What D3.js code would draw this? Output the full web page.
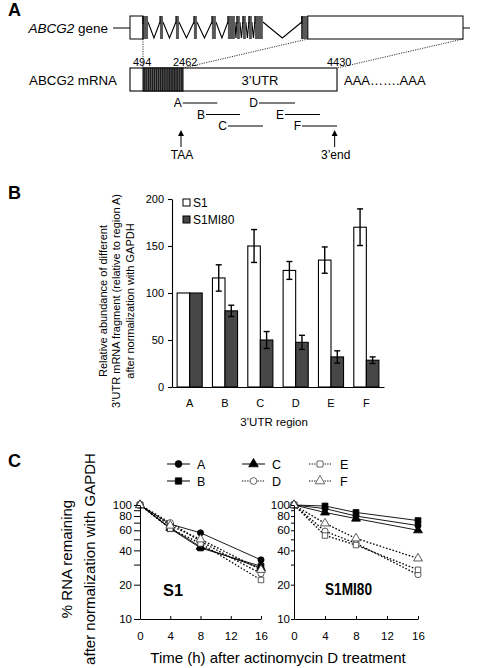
<!DOCTYPE html>
<html><head><meta charset="utf-8">
<script src="https://cdn.jsdelivr.net/npm/d3@7"></script>
<style>
body{margin:0;background:#fff}
svg{display:block;font-family:"Liberation Sans",Arial,Helvetica,sans-serif}
</style>
</head><body>
<svg id="c" width="482" height="668"></svg>
<script>
// ================= DATA =================
// Panel A: gene schematic (relative gene units 0..1000)
const geneUtr5 = [0, 39];
const geneExons = [[39,54],[90,99],[138,147],[192,201],[246,258],[294,315],[321,330],[339,348],[357,366],[375,399],[516,534]];
const geneUtr3 = [534, 1000];
// mRNA landmarks (nt)
const mrnaMarks = [494, 2462, 4430];
const mrnaJunctions = [560,650,760,860,960,1060,1160,1260,1360,1450,1540,1630,1720,1800,1880,1960,2040,2120,2200,2300,2400];
const fragNames = ["A","B","C","D","E","F"];
const fragStart = [2450, 2756, 3037, 3433, 3765, 3983];
const fragEnd   = [2900, 3190, 3485, 3893, 4212, 4430];
const fragRow   = [0, 1, 2, 0, 1, 2];
const arrowNt = [2462, 4400];
const arrowLabels = ["TAA", "3\u2019end"];

// Panel B
const regions = ["A","B","C","D","E","F"];
const s1Abund = [100,116,150,124,135,170];
const s1AbundErr = [0,14,17.5,9.5,14,19.5];
const mi80Abund = [100,81,50,47.5,32,28.5];
const mi80AbundErr = [0,6,9,7.5,6.5,3.5];
const abundTicks = [0,50,100,150,200];

// Panel C
const timePoints = [0,4,8,16];
const timeTicks = [0,4,8,12,16];
const pctTicks = [10,20,30,40,50,60,70,80,90,100];
const pctLabels = [10,20,40,60,80,100];
const seriesNames = ["A","B","C","D","E","F"];
const s1Decay = [
  [100,68,57,33],   // A
  [100,62,42,29],   // B
  [100,63,43,28],   // C
  [100,70,48,25],   // D
  [100,62,46,22],   // E
  [100,66,50,27]    // F
];
const mi80Decay = [
  [100,93,80,66],   // A
  [100,98,86,73],   // B
  [100,86,76,60],   // C
  [100,59,46,24.5], // D
  [100,54,44.5,27], // E
  [100,69,51,34]    // F
];

// ================= DRAW =================
const svg = d3.select("#c");
const K = "#000";

function panelLetter(t, x, y){
  svg.append("text").attr("x",x).attr("y",y).attr("font-size",18).attr("font-weight","bold").text(t);
}

// ---------- Panel A ----------
panelLetter("A", 8, 16);
const gx = d3.scaleLinear().domain([0,1000]).range([130,463]);
const gTop = 16, gBot = 39, gMid = 28;
const gA = svg.append("g");
gA.append("line").attr("x1",113).attr("x2",470).attr("y1",gMid).attr("y2",gMid).attr("stroke",K).attr("stroke-width",1.2);
for(let i=0;i<geneExons.length-1;i++){
  const a = gx(geneExons[i][1]), b = gx(geneExons[i+1][0]);
  const m = (a+b)/2;
  gA.append("rect").attr("x",a).attr("y",gTop).attr("width",b-a).attr("height",gBot-gTop).attr("fill","#fff");
  gA.append("path").attr("d",`M${a},${gTop+6}L${m},${gBot-1}L${b},${gTop+6}`).attr("fill","none").attr("stroke",K).attr("stroke-width",1.1);
}
gA.append("rect").attr("x",gx(geneUtr5[0])).attr("y",gTop).attr("width",gx(geneUtr5[1])-gx(geneUtr5[0])).attr("height",gBot-gTop).attr("fill","#fff").attr("stroke",K);
geneExons.forEach(e=>{
  gA.append("rect").attr("x",gx(e[0])).attr("y",gTop).attr("width",Math.max(1,gx(e[1])-gx(e[0]))).attr("height",gBot-gTop).attr("fill","#595959");
  gA.append("line").attr("x1",gx(e[0])).attr("x2",gx(e[0])).attr("y1",gTop).attr("y2",gTop+8).attr("stroke",K).attr("stroke-width",1.1);
});
gA.append("rect").attr("x",gx(geneUtr3[0])).attr("y",gTop).attr("width",gx(geneUtr3[1])-gx(geneUtr3[0])).attr("height",gBot-gTop).attr("fill","#fff").attr("stroke",K);
gA.append("line").attr("x1",gx(geneUtr5[1])).attr("x2",gx(geneUtr5[1])).attr("y1",gTop).attr("y2",gBot).attr("stroke",K);
gA.append("line").attr("x1",gx(geneExons[geneExons.length-1][0])).attr("x2",gx(geneExons[geneExons.length-1][0])).attr("y1",gTop).attr("y2",gBot).attr("stroke",K);

const geneLbl = svg.append("text").attr("x",108).attr("y",33).attr("text-anchor","end").attr("font-size",13.5);
geneLbl.append("tspan").attr("font-style","italic").text("ABCG2");
geneLbl.append("tspan").text(" gene");

// mRNA
const mx = d3.scaleLinear().domain([0,494,2462,4430]).range([130,143,183,337]);
const mTop = 68, mBot = 91;
[[gx(geneUtr5[1]), mx(494)],[gx(geneUtr3[0]), mx(2462)],[gx(geneUtr3[1]), mx(4430)]].forEach(p=>{
  svg.append("line").attr("x1",p[0]).attr("y1",gBot).attr("x2",p[1]).attr("y2",mTop)
    .attr("stroke",K).attr("stroke-width",0.8).attr("stroke-dasharray","1.2,1.2");
});
svg.append("rect").attr("x",mx(0)).attr("y",mTop).attr("width",mx(4430)-mx(0)).attr("height",mBot-mTop).attr("fill","#fff").attr("stroke",K).attr("stroke-width",1.1);
svg.append("rect").attr("x",mx(494)).attr("y",mTop).attr("width",mx(2462)-mx(494)).attr("height",mBot-mTop).attr("fill","#5a5a5a").attr("stroke",K).attr("stroke-width",1);
mrnaJunctions.forEach(j=>{
  svg.append("line").attr("x1",mx(j)).attr("x2",mx(j)).attr("y1",mTop).attr("y2",mBot).attr("stroke","#111").attr("stroke-width",0.9);
});
svg.append("text").attr("x",(mx(2462)+mx(4430))/2).attr("y",85).attr("text-anchor","middle").attr("font-size",13).text("3\u2019UTR");
svg.append("text").attr("x",117).attr("y",85).attr("text-anchor","end").attr("font-size",13.3).text("ABCG2 mRNA");
svg.append("text").attr("x",344).attr("y",85).attr("font-size",13).text("AAA\u2026\u2026.AAA");
mrnaMarks.forEach(m=>{
  svg.append("text").attr("x",mx(m)-10).attr("y",66).attr("font-size",11).text(m);
});
const rowY = [103, 114.5, 126];
fragNames.forEach((f,i)=>{
  const y = rowY[fragRow[i]];
  svg.append("line").attr("x1",mx(fragStart[i])).attr("x2",mx(fragEnd[i])).attr("y1",y).attr("y2",y).attr("stroke",K).attr("stroke-width",1.1);
  svg.append("text").attr("x",mx(fragStart[i])-1).attr("y",y+4.3).attr("text-anchor","end").attr("font-size",12).text(f);
});
arrowNt.forEach((a,i)=>{
  const x = mx(a) - (i===0?2:0);
  svg.append("line").attr("x1",x).attr("x2",x).attr("y1",147).attr("y2",134).attr("stroke",K).attr("stroke-width",1);
  svg.append("path").attr("d",`M${x},130L${x-3},136L${x+3},136Z`).attr("fill",K);
  svg.append("text").attr("x",x+1).attr("y",159).attr("text-anchor","middle").attr("font-size",12).text(arrowLabels[i]);
});

// ---------- Panel B ----------
panelLetter("B", 8, 199);
const bx = d3.scaleBand().domain(regions).range([172,384]).paddingInner(0.29).paddingOuter(0.145);
const by = d3.scaleLinear().domain([0,200]).range([387,199]);
const bw = bx.bandwidth()/2;
const gB = svg.append("g");
regions.forEach((r,i)=>{
  gB.append("rect").attr("x",bx(r)).attr("y",by(s1Abund[i])).attr("width",bw).attr("height",by(0)-by(s1Abund[i]))
    .attr("fill","#fff").attr("stroke",K).attr("stroke-width",1.1);
  gB.append("rect").attr("x",bx(r)+bw).attr("y",by(mi80Abund[i])).attr("width",bw).attr("height",by(0)-by(mi80Abund[i]))
    .attr("fill","#474747").attr("stroke",K).attr("stroke-width",1.1);
  [[s1Abund[i],s1AbundErr[i],bx(r)+bw/2],[mi80Abund[i],mi80AbundErr[i],bx(r)+1.5*bw]].forEach(([v,e,cx])=>{
    if(e<=0) return;
    gB.append("line").attr("x1",cx).attr("x2",cx).attr("y1",by(v-e)).attr("y2",by(v+e)).attr("stroke",K).attr("stroke-width",1.4);
    [v-e,v+e].forEach(t=>gB.append("line").attr("x1",cx-3).attr("x2",cx+3).attr("y1",by(t)).attr("y2",by(t)).attr("stroke",K).attr("stroke-width",1.4));
  });
});
const bYAxis = svg.append("g").attr("transform","translate(172,0)")
  .call(d3.axisLeft(by).tickValues(abundTicks).tickSize(4).tickSizeOuter(0).tickPadding(4));
bYAxis.selectAll("text").attr("font-size",11).attr("font-family",null);
bYAxis.selectAll("line,path").attr("stroke",K).attr("stroke-width",1.1);
const bXAxis = svg.append("g").attr("transform","translate(0,387)")
  .call(d3.axisBottom(bx).tickSize(0).tickPadding(12));
bXAxis.selectAll("text").attr("font-size",11).attr("font-family",null);
bXAxis.select("path").attr("stroke",K).attr("stroke-width",1.1);
svg.append("text").attr("x",274).attr("y",426).attr("text-anchor","middle").attr("font-size",11.5).text("3\u2019UTR region");
[["S1","#fff",199],["S1MI80","#474747",216]].forEach(([t,c,y])=>{
  svg.append("rect").attr("x",183).attr("y",y).attr("width",7).attr("height",7).attr("fill",c).attr("stroke",K);
  svg.append("text").attr("x",193).attr("y",y+7.5).attr("font-size",12).text(t);
});
["Relative abundance of different","3\u2019UTR mRNA fragment (relative to region A)","after normalization with GAPDH"].forEach((t,i)=>{
  svg.append("text").attr("transform",`translate(${103+i*13.5},301) rotate(-90)`).attr("dy","0.35em")
    .attr("text-anchor","middle").attr("font-size",11).text(t);
});

// ---------- Panel C ----------
panelLetter("C", 8, 467);
const cy = d3.scaleLog().domain([10,100]).range([619,505]);
const symTypes = [d3.symbolCircle, d3.symbolSquare, d3.symbolTriangle, d3.symbolCircle, d3.symbolSquare, d3.symbolTriangle];
const symSizes = [30, 34, 34, 30, 30, 34];
const filled = [true,true,true,false,false,false];

function drawPlot(data, x0, x1, tickSz, tickPad, title, tx, ty, tlen, tsize){
  const cx = d3.scaleLinear().domain([0,16]).range([x0,x1]);
  const g = svg.append("g");
  const line = d3.line().x((d,i)=>cx(timePoints[i])).y(d=>cy(d));
  data.forEach((s,k)=>{
    g.append("path").attr("d",line(s)).attr("fill","none").attr("stroke",K)
      .attr("stroke-width",filled[k]?0.9:1.3).attr("stroke-dasharray",filled[k]?null:"1.6,1.8");
  });
  data.forEach((s,k)=>{
    s.forEach((v,i)=>{
      g.append("path").attr("d",d3.symbol().type(symTypes[k]).size(symSizes[k])())
        .attr("transform",`translate(${cx(timePoints[i])},${cy(v)})`)
        .attr("fill",filled[k]?K:"#fff").attr("stroke",filled[k]?K:"#333").attr("stroke-width",0.8);
    });
  });
  const ya = svg.append("g").attr("transform",`translate(${x0},0)`)
    .call(d3.axisLeft(cy).tickValues(pctTicks).tickSize(tickSz).tickSizeOuter(0).tickPadding(tickPad)
      .tickFormat(d=>pctLabels.includes(d)?d:""));
  ya.selectAll("text").attr("font-size",11.5).attr("font-family",null);
  ya.selectAll("line,path").attr("stroke",K).attr("stroke-width",1);
  const xa = svg.append("g").attr("transform","translate(0,619)")
    .call(d3.axisBottom(cx).tickValues(timeTicks).tickSize(-3).tickSizeOuter(0).tickPadding(13));
  xa.selectAll("text").attr("font-size",11.5).attr("font-family",null);
  xa.selectAll("line,path").attr("stroke",K).attr("stroke-width",1);
  svg.append("text").attr("x",tx).attr("y",ty).attr("font-size",tsize).attr("font-weight","bold")
    .attr("textLength",tlen).attr("lengthAdjust","spacingAndGlyphs").text(title);
}
drawPlot(s1Decay, 140, 261, 6, 2, "S1", 163, 596, 20, 16);
drawPlot(mi80Decay, 294, 418, 3, 1, "S1MI80", 325, 595, 47, 17);

const legCols = [[167,190,197],[242,265,272],[309,331,340]];
const legRows = [464, 481];
seriesNames.forEach((n,k)=>{
  const col = legCols[Math.floor(k/2)], y = legRows[k%2];
  svg.append("line").attr("x1",col[0]).attr("x2",col[1]).attr("y1",y).attr("y2",y).attr("stroke",K)
    .attr("stroke-width",1).attr("stroke-dasharray",filled[k]?null:"1.3,1.3");
  svg.append("path").attr("d",d3.symbol().type(symTypes[k]).size(symSizes[k]+6)())
    .attr("transform",`translate(${(col[0]+col[1])/2},${y})`)
    .attr("fill",filled[k]?K:"#fff").attr("stroke",filled[k]?K:"#444").attr("stroke-width",0.8);
  svg.append("text").attr("x",col[2]).attr("y",y+4.5).attr("font-size",12.5).text(n);
});
["% RNA remaining","after normalization with GAPDH"].forEach((t,i)=>{
  svg.append("text").attr("transform",`translate(${67+i*23},559) rotate(-90)`).attr("dy","0.35em")
    .attr("text-anchor","middle").attr("font-size",15).text(t);
});
svg.append("text").attr("x",278).attr("y",663).attr("text-anchor","middle").attr("font-size",15)
  .text("Time (h) after actinomycin D treatment");
</script>
</body></html>
